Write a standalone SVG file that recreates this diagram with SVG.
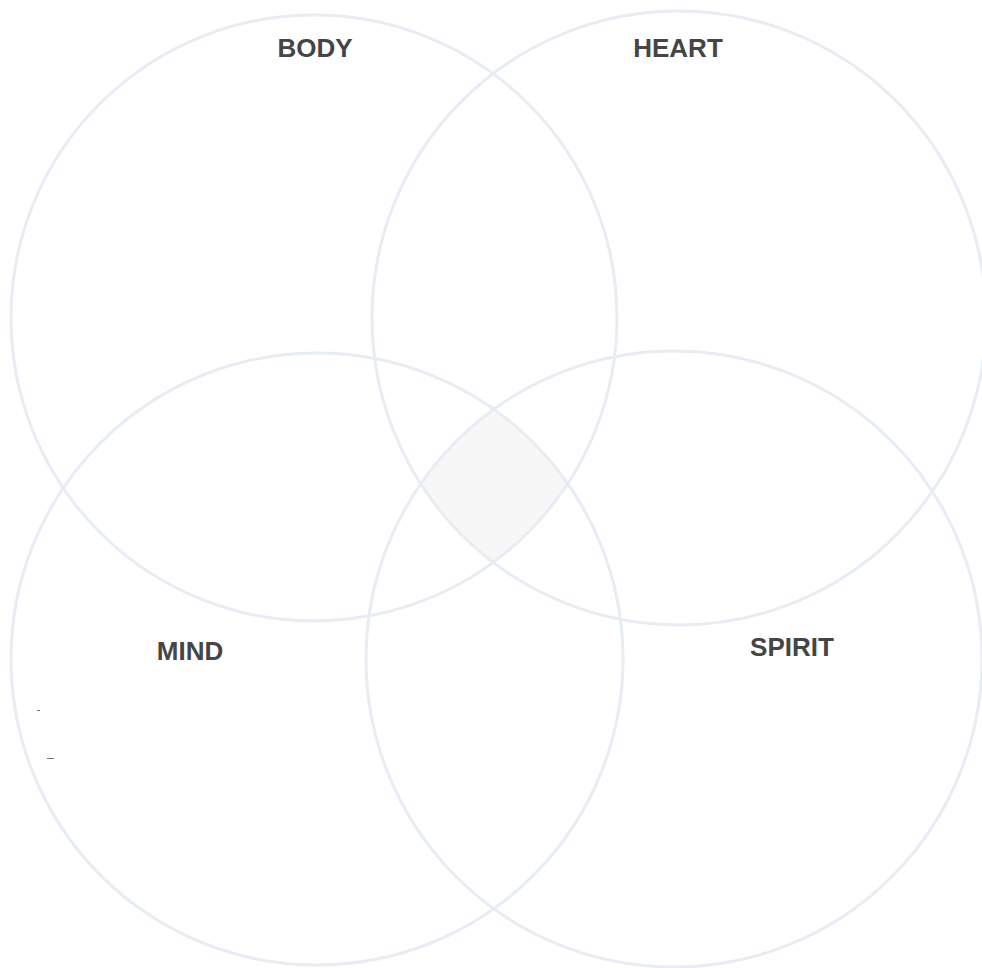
<svg xmlns="http://www.w3.org/2000/svg" width="982" height="968" viewBox="0 0 982 968">
<style>
.ring{fill:none;stroke:#e7edf2;stroke-width:3}
.lbl{font-family:"Liberation Sans",Arial,Helvetica,sans-serif;font-weight:bold;font-size:26px;fill:#454545;text-anchor:middle}
.tick{stroke:#777;stroke-width:1}
</style>
<defs>
<clipPath id="cBody"><circle cx="314" cy="318" r="303"/></clipPath>
<clipPath id="cHeart"><circle cx="679" cy="318" r="307"/></clipPath>
<clipPath id="cMind"><circle cx="317" cy="659" r="306"/></clipPath>
</defs>
<rect width="982" height="968" fill="#ffffff"/>
<g id="center">
<g clip-path="url(#cBody)"><g clip-path="url(#cHeart)"><g clip-path="url(#cMind)">
<circle cx="674" cy="659" r="308" fill="#f7f7f7"/>
</g></g></g>
</g>
<g id="body"><circle class="ring" cx="314" cy="318" r="303"/><text class="lbl" x="315" y="57">BODY</text></g>
<g id="heart"><circle class="ring" cx="679" cy="318" r="307"/><text class="lbl" x="678" y="57">HEART</text></g>
<g id="mind"><circle class="ring" cx="317" cy="659" r="306"/><text class="lbl" x="190" y="660">MIND</text>
<line class="tick" x1="37" y1="710.5" x2="40" y2="710.5"/><line class="tick" x1="47" y1="758.5" x2="54" y2="758.5"/></g>
<g id="spirit"><circle class="ring" cx="674" cy="659" r="308"/><text class="lbl" x="792" y="656">SPIRIT</text></g>
<g id="connectors"/>
</svg>
